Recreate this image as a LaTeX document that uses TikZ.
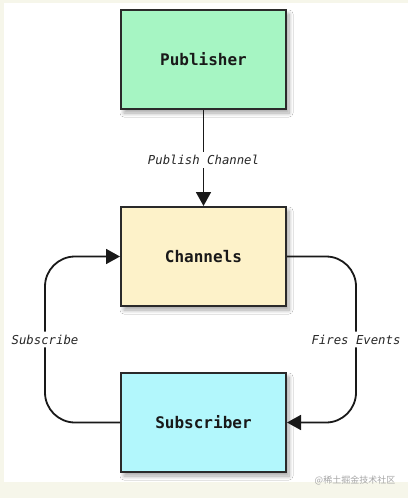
\documentclass[tikz,border=0pt]{standalone}
\usepackage{fontspec}
\setmonofont{DejaVu Sans Mono}
\newfontfamily\cjkwm{Noto Sans CJK SC}
\usetikzlibrary{arrows.meta,shadows.blur}
\definecolor{pubfill}{HTML}{A6F5C3}
\definecolor{chanfill}{HTML}{FDF2C9}
\definecolor{subfill}{HTML}{B2F7FC}
\definecolor{edgecol}{HTML}{2A2A2A}
\definecolor{cream}{HTML}{F6F6EA}
\tikzset{
  boxnode/.style={draw=edgecol, line width=2pt, minimum width=165pt, minimum height=99pt,
    font=\ttfamily\bfseries\fontsize{16}{18}\selectfont, text=black!90,
    blur shadow={shadow xshift=3pt, shadow yshift=-4pt, shadow blur radius=4pt, shadow blur steps=8, shadow opacity=35}},
  conn/.style={draw=black!90, line width=1.8pt, -{Triangle[length=14pt,width=15pt]}},
  lbl/.style={fill=white, inner sep=3pt, font=\ttfamily\itshape\fontsize{12.3}{14}\selectfont, text=black!85}
}
\begin{document}
\begin{tikzpicture}[x=1pt,y=-1pt]
  \fill[cream] (0,0) rectangle (408,498);
  \fill[white] (4,3) rectangle (408,482);
  \useasboundingbox (0,0) rectangle (408,498);
  \node[boxnode, fill=pubfill] (pub) at (203.5,59.5) {Publisher};
  \node[boxnode, fill=chanfill] (chan) at (203.5,256.5) {Channels};
  \node[boxnode, fill=subfill] (sub) at (203.5,422.5) {Subscriber};
  \coordinate (lx) at (45,0);
  \coordinate (rx) at (356,0);
  \draw[conn] (pub.south) -- node[lbl, pos=0.52] (lpub) {Publish Channel} (chan.north);
  \draw[conn, rounded corners=30pt] (sub.west) -- (sub.west -| lx) -- node[lbl, pos=0.5] (lsub) {Subscribe} (chan.west -| lx) -- (chan.west);
  \draw[conn, rounded corners=30pt] (chan.east) -- (chan.east -| rx) -- node[lbl, pos=0.5] (lfire) {Fires Events} (sub.east -| rx) -- (sub.east);
  \node[font=\cjkwm\fontsize{9}{10}\selectfont, text=black!35] (wm) at (355,480) {@稀土掘金技术社区};
\end{tikzpicture}
\end{document}
